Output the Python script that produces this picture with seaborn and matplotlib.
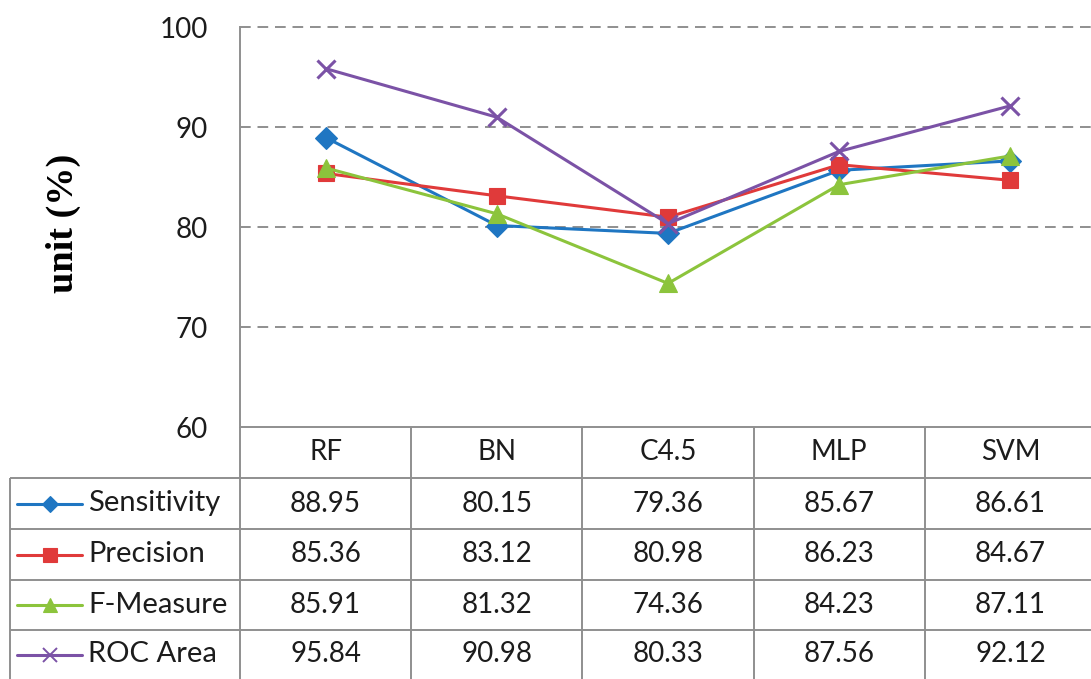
import numpy as np
import pandas as pd
import matplotlib
matplotlib.use("Agg")
import matplotlib.pyplot as plt
from matplotlib.lines import Line2D
import seaborn as sns

# --- data -------------------------------------------------------------
models = ["RF", "BN", "C4.5", "MLP", "SVM"]
metrics = ["Sensitivity", "Precision", "F-Measure", "ROC Area"]
sensitivity = [88.95, 80.15, 79.36, 85.67, 86.61]
precision = [85.36, 83.12, 80.98, 86.23, 84.67]
f_measure = [85.91, 81.32, 74.36, 84.23, 87.11]
roc_area = [95.84, 90.98, 80.33, 87.56, 92.12]
y_ticks = [60, 70, 80, 90, 100]
y_label = "unit (%)"

# --- styling ----------------------------------------------------------
colors = ["#1f76c2", "#e03a3a", "#8cc43c", "#7b52a6"]
markers = ["D", "s", "^", "x"]
marker_sizes = [11.5, 12, 12.5, 12.5]
key_marker_sizes = [8, 9.5, 10, 10]
grid_color = "#8f8f8f"
text_color = "#1c1c1c"

sns.set_theme(style="white")
plt.rcParams["font.family"] = ["Lato", "DejaVu Sans"]

W, H = 1091, 679
fig = plt.figure(figsize=(W / 100, H / 100), dpi=100)

# layout in pixels
left_px, right_px = 240, 1096
top_px, base_px = 27, 427
row_edges = [427, 478, 529, 580, 630, 690]
key_left = 10

ax = fig.add_axes([left_px / W, 1 - base_px / H,
                   (right_px - left_px) / W, (base_px - top_px) / H])

series = [sensitivity, precision, f_measure, roc_area]
df = pd.DataFrame({
    "pos": np.tile(np.arange(len(models)), len(metrics)),
    "metric": np.repeat(metrics, len(models)),
    "value": np.concatenate(series),
})

for name, col, mk, ms in zip(metrics, colors, markers, marker_sizes):
    sub = df[df["metric"] == name]
    sns.lineplot(data=sub, x="pos", y="value", color=col, marker=mk,
                 markersize=ms, markeredgecolor=col,
                 markeredgewidth=2.2 if mk == "x" else 0.8,
                 linewidth=2.2, ax=ax, legend=False, zorder=3)

ax.set_xlim(-0.5, len(models) - 0.5)
ax.set_ylim(y_ticks[0], y_ticks[-1])
ax.set_yticks(y_ticks)
ax.set_yticklabels([str(t) for t in y_ticks])
ax.set_xticks([])
ax.set_xlabel("")
ax.set_ylabel("")
ax.tick_params(axis="y", length=0, pad=23, labelsize=20, labelcolor=text_color)
ax.yaxis.grid(True, color=grid_color, linewidth=1.4, linestyle=(0, (5.5, 3.5)))
for gl in ax.get_ygridlines():
    gl.set_clip_on(False)
ax.get_ygridlines()[0].set_visible(False)
for side in ["top", "right", "bottom"]:
    ax.spines[side].set_visible(False)
ax.spines["left"].set_color(grid_color)
ax.spines["left"].set_linewidth(1.4)

fig.text(63 / W, 1 - 223 / H, y_label, rotation=90, ha="center", va="center",
         fontsize=27.5, fontweight="bold", family="Liberation Serif", color="black")

# --- data table under the plot ------------------------------------------
tab = fig.add_axes([0, 0, 1, 1])
tab.set_xlim(0, W)
tab.set_ylim(H, 0)
tab.axis("off")

col_w = (right_px - left_px) / len(models)
col_edges = [left_px + k * col_w for k in range(len(models) + 1)]
line_kw = dict(color=grid_color, linewidth=1.4, solid_capstyle="butt")

tab.plot([left_px, W], [row_edges[0]] * 2, **line_kw)
for y in row_edges[1:-1]:
    tab.plot([key_left, W], [y, y], **line_kw)
for x in col_edges[:-1]:
    tab.plot([x, x], [row_edges[0], H], **line_kw)
tab.plot([key_left, key_left], [row_edges[1], H], **line_kw)

centers_x = [(a + b) / 2 for a, b in zip(col_edges[:-1], col_edges[1:])]
header_y = (row_edges[0] + row_edges[1]) / 2
for cx, m in zip(centers_x, models):
    tab.text(cx, header_y, m, ha="center", va="center", fontsize=20, color=text_color)

for i, (name, vals, col, mk, ks) in enumerate(zip(metrics, series, colors, markers, key_marker_sizes)):
    cy = (row_edges[i + 1] + min(row_edges[i + 2], H)) / 2
    tab.add_line(Line2D([17, 82], [cy, cy], color=col, linewidth=2.2))
    tab.add_line(Line2D([49.5], [cy], marker=mk, markersize=ks, color=col,
                        markeredgecolor=col,
                        markeredgewidth=1.4 if mk == "x" else 0.8,
                        linestyle="none"))
    tab.text(88, cy, name, ha="left", va="center", fontsize=21, color=text_color)
    for cx, v in zip(centers_x, vals):
        tab.text(cx, cy, f"{v:.2f}", ha="center", va="center", fontsize=20, color=text_color)

fig.savefig("out.png", dpi=100, facecolor="white")
